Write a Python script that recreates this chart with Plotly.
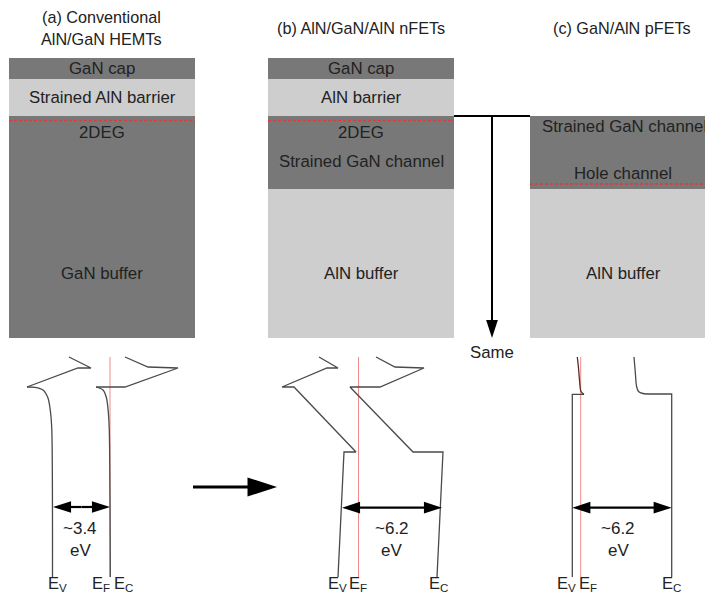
import plotly.graph_objects as go

# ---------------- data ----------------
# canvas units (x to the right, y downward)
W, H = 705, 602

# titles
title_text = ["(a) Conventional", "AlN/GaN HEMTs", "(b) AlN/GaN/AlN nFETs", "(c) GaN/AlN pFETs"]
title_x = [101, 101, 361, 622]
title_y = [17, 39, 28, 28]

# layer stacks
layer_x0 = [9, 9, 9, 268, 268, 268, 268, 530, 530]
layer_x1 = [195, 195, 195, 454, 454, 454, 454, 716, 716]
layer_top = [58, 79, 116, 58, 79, 116, 189, 116, 189]
layer_bottom = [79, 116, 338, 79, 116, 189, 338, 189, 338]
layer_material = ["GaN", "AlN", "GaN", "GaN", "AlN", "GaN", "AlN", "GaN", "AlN"]

# layer labels
label_text = ["GaN cap", "Strained AlN barrier", "2DEG", "GaN buffer",
              "GaN cap", "AlN barrier", "2DEG", "Strained GaN channel", "AlN buffer",
              "Strained GaN channel", "Hole channel", "AlN buffer"]
label_x = [102, 102, 102, 102, 361, 361, 361, 361, 361, 624, 623, 623]
label_y = [68, 97, 132, 273, 68, 97, 132, 161, 273, 126, 173, 273]

# 2DEG / hole gas positions (dashed)
gas_x0 = [9, 268, 530]
gas_x1 = [195, 454, 716]
gas_y = [120.5, 120.5, 184]

# band edges: straight polylines
band_lines = {
    "Ev_a": ([69, 91, 78, 27], [357, 368, 368, 387]),
    "Ec_a": ([125, 148, 178, 125, 96], [357, 367, 368, 387, 387]),
    "Ev_b": ([319, 338, 327, 282, 294, 356, 344, 338], [357, 368, 368, 387, 387, 452, 452, 577]),
    "Ec_b": ([376, 395, 424, 380, 350, 413, 443, 437], [357, 367, 368, 387, 387, 452, 452, 577]),
    "Ev_c": ([584, 572.3, 572.3], [394.3, 394.3, 577]),
    "Ec_c": ([650, 671.7, 671.7], [394, 394, 577]),
}
# band edges: curved parts
band_curves = {
    "Ev_a": ([27, 35, 43, 48, 50.5, 51.8, 52.5], [387, 387.3, 390, 398, 412, 430, 577]),
    "Ec_a": ([96, 103, 106.5, 108.3, 109.3, 110.3], [387, 390, 398, 412, 430, 577]),
    "Ec_c": ([634, 635.5, 636.5, 638.5, 643, 650], [357, 375, 386, 391.5, 393.5, 394]),
}
hole_curve_x = [584, 581, 579.5, 578.5, 577.3]
hole_curve_y = [394.3, 391.5, 380, 368, 357]

# Fermi levels
ef_x = [110, 358.5, 580.7]
ef_top = 357
ef_bottom = 577

# band gaps
gap_left = [53, 342, 572.3]
gap_right = [110, 442, 671.7]
gap_y = [507, 507.7, 507.7]
gap_value = ["~3.4", "~6.2", "~6.2"]
gap_text_x = [80, 391.7, 618]

# E labels
elabel_text = ["E<sub>V</sub>", "E<sub>F</sub>", "E<sub>C</sub>",
               "E<sub>V</sub>", "E<sub>F</sub>", "E<sub>C</sub>",
               "E<sub>V</sub>", "E<sub>F</sub>", "E<sub>C</sub>"]
elabel_x = [57, 101, 123, 337, 358, 438, 566, 588, 671]
elabel_y = 584

# connector "Same"
same_h_x = [454, 530]
same_h_y = 116
same_v_x = 492
same_v_y = [116, 338]

# transition arrow
trans_x = [193, 277]
trans_y = 487

# ---------------- style ----------------
FONT = "Liberation Sans, Arial, sans-serif"
TXT = "#222222"
COL = {"GaN": "#787878", "AlN": "#cecece"}
BAND = "#4a4a4a"

fig = go.Figure()

# layers
for x0, x1, y0, y1, m in zip(layer_x0, layer_x1, layer_top, layer_bottom, layer_material):
    fig.add_shape(type="rect", x0=x0, x1=x1, y0=y0, y1=y1, xref="x", yref="y",
                  line=dict(width=0), fillcolor=COL[m], layer="below")

# dashed gas lines
for x0, x1, y in zip(gas_x0, gas_x1, gas_y):
    fig.add_trace(go.Scatter(x=[x0, x1], y=[y, y], mode="lines",
                             line=dict(color="#e03a3a", width=1.4, dash="3px,2px"),
                             hoverinfo="skip"))

# Fermi levels
for x in ef_x:
    fig.add_trace(go.Scatter(x=[x, x], y=[ef_top, ef_bottom], mode="lines",
                             line=dict(color="#ef8a8a", width=1), hoverinfo="skip"))

# band edges
for key, (xs, ys) in band_lines.items():
    fig.add_trace(go.Scatter(x=xs, y=ys, mode="lines",
                             line=dict(color=BAND, width=1.3), hoverinfo="skip"))
for key, (xs, ys) in band_curves.items():
    fig.add_trace(go.Scatter(x=xs, y=ys, mode="lines",
                             line=dict(color=BAND, width=1.3, shape="spline", smoothing=0.8),
                             hoverinfo="skip"))
fig.add_trace(go.Scatter(x=hole_curve_x, y=hole_curve_y, mode="lines",
                         line=dict(color="#5a2a2a", width=1.3, shape="spline", smoothing=0.8),
                         hoverinfo="skip"))


def arrow(x_tail, y_tail, x_tip, y_tip, width, size, angle):
    # shaft stops inside the head; head drawn as an 'arrow' marker at the tip
    back = 0.6 * size
    dx, dy = x_tip - x_tail, y_tip - y_tail
    length = (dx ** 2 + dy ** 2) ** 0.5
    xe = x_tip - dx / length * back
    ye = y_tip - dy / length * back
    fig.add_trace(go.Scatter(x=[x_tail, xe], y=[y_tail, ye], mode="lines",
                             line=dict(color="black", width=width), hoverinfo="skip"))
    fig.add_trace(go.Scatter(x=[x_tip], y=[y_tip], mode="markers",
                             marker=dict(symbol="arrow", size=size, angle=angle,
                                         color="black", line=dict(width=0)),
                             hoverinfo="skip"))


# band gap double arrows
for xl, xr, y in zip(gap_left, gap_right, gap_y):
    xm = (xl + xr) / 2
    arrow(xm, y, xr, y, 2.2, 19, 90)
    arrow(xm, y, xl, y, 2.2, 19, -90)

# transition arrow
arrow(trans_x[0], trans_y, trans_x[1], trans_y, 3.2, 31, 90)

# "Same" connector
fig.add_trace(go.Scatter(x=same_h_x, y=[same_h_y, same_h_y], mode="lines",
                         line=dict(color="black", width=2), hoverinfo="skip"))
arrow(same_v_x, same_v_y[0], same_v_x, same_v_y[1], 2, 19, 180)

# ---------------- text ----------------
ann = []
for t, x, y in zip(title_text, title_x, title_y):
    ann.append(dict(text=t, x=x, y=y, font=dict(size=16.2, color=TXT)))
for t, x, y in zip(label_text, label_x, label_y):
    ann.append(dict(text=t, x=x, y=y, font=dict(size=16.8, color=TXT)))
for v, x, y in zip(gap_value, gap_text_x, gap_y):
    ann.append(dict(text=v, x=x, y=y + 21, font=dict(size=17, color=TXT)))
    ann.append(dict(text="eV", x=x, y=y + 43, font=dict(size=17, color=TXT)))
for t, x in zip(elabel_text, elabel_x):
    ann.append(dict(text=t, x=x, y=elabel_y, font=dict(size=16.5, color=TXT)))
ann.append(dict(text="Same", x=same_v_x, y=352, font=dict(size=16.8, color=TXT)))

for a in ann:
    a.update(xref="x", yref="y", showarrow=False, xanchor="center", yanchor="middle")

fig.update_layout(
    width=W, height=H, margin=dict(l=0, r=0, t=0, b=0),
    paper_bgcolor="white", plot_bgcolor="white",
    showlegend=False, annotations=ann,
    font=dict(family=FONT),
    xaxis=dict(range=[0, W], visible=False, fixedrange=True),
    yaxis=dict(range=[H, 0], visible=False, fixedrange=True),
)

fig.write_html("out.html", config={"displayModeBar": False, "staticPlot": True},
               post_script="document.body.style.margin='0';")
